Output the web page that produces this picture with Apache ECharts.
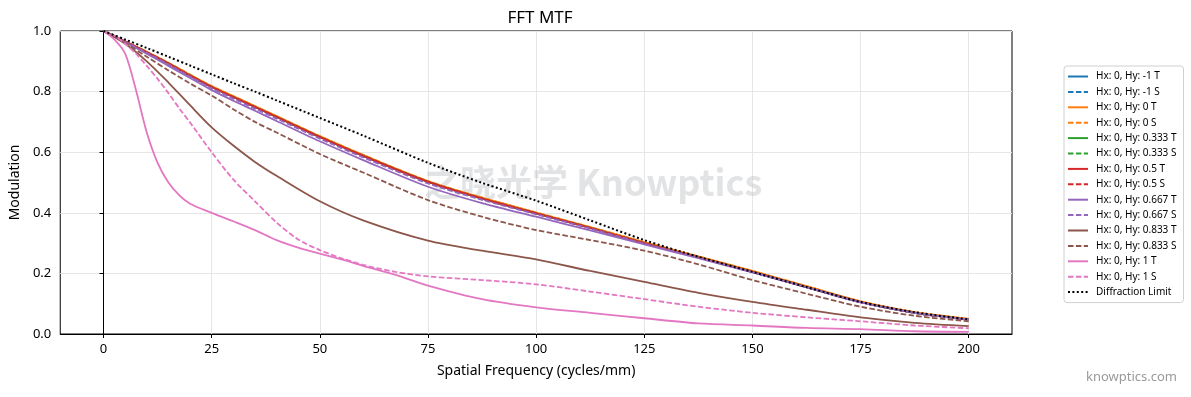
<!DOCTYPE html>
<html style="height: 100%">
<head>
  <meta charset="utf-8" />
  <title>FFT MTF</title>
  <script src="https://cdn.jsdelivr.net/npm/echarts@6/dist/echarts.min.js"></script>
</head>
<body style="height: 100%; margin: 0; overflow: hidden; background: #fff">
  <div id="container" style="width: 1191px; height: 397px"></div>
  <script>
    // spatial frequency sample points (cycles/mm)
    const freqMain = [0, 5, 10, 15, 20, 25, 30, 35, 40, 50, 60, 75, 87.5, 100, 112.5, 125, 137.5, 150, 162.5, 175, 187.5, 200];
    const freqEdge = [0, 2.5, 5, 7.5, 10, 12.5, 15, 17.5, 20, 25, 30, 35, 40, 45, 50, 55, 60, 67.5, 75, 87.5, 100, 112.5, 125, 137.5, 150, 162.5, 175, 187.5, 200];

    // fields -1 .. 0.5 all sit in one bundle
    const mtfAxis = [1.0, 0.966, 0.931, 0.895, 0.856, 0.818, 0.785, 0.752, 0.719, 0.653, 0.591, 0.505, 0.45, 0.401, 0.353, 0.303, 0.256, 0.208, 0.158, 0.108, 0.072, 0.05];
    const mtfMid = [1.0, 0.965, 0.93, 0.893, 0.853, 0.815, 0.782, 0.749, 0.716, 0.65, 0.588, 0.502, 0.447, 0.398, 0.35, 0.3, 0.253, 0.205, 0.155, 0.105, 0.07, 0.048];
    const mtf0667S = [1.0, 0.964, 0.928, 0.89, 0.85, 0.811, 0.777, 0.744, 0.711, 0.645, 0.583, 0.497, 0.443, 0.395, 0.348, 0.298, 0.252, 0.204, 0.155, 0.105, 0.07, 0.048];
    const mtf0667T = [1.0, 0.963, 0.925, 0.885, 0.845, 0.805, 0.77, 0.737, 0.703, 0.636, 0.574, 0.486, 0.432, 0.387, 0.342, 0.296, 0.25, 0.203, 0.154, 0.104, 0.07, 0.047];
    const mtf0833S = [1.0, 0.96, 0.915, 0.87, 0.827, 0.787, 0.742, 0.7, 0.665, 0.594, 0.533, 0.442, 0.387, 0.343, 0.31, 0.275, 0.23, 0.178, 0.133, 0.09, 0.06, 0.042];
    const mtf0833T = [1.0, 0.958, 0.9, 0.83, 0.755, 0.682, 0.622, 0.568, 0.522, 0.438, 0.375, 0.308, 0.275, 0.246, 0.208, 0.172, 0.136, 0.106, 0.08, 0.055, 0.037, 0.026];
    const mtfDiff = [1.0, 0.972, 0.944, 0.915, 0.886, 0.857, 0.828, 0.8, 0.771, 0.713, 0.655, 0.565, 0.499, 0.44, 0.375, 0.31, 0.255, 0.205, 0.155, 0.106, 0.072, 0.048];
    const mtf1S = [1.0, 0.985, 0.958, 0.925, 0.885, 0.842, 0.795, 0.745, 0.698, 0.6, 0.51, 0.438, 0.368, 0.312, 0.277, 0.25, 0.228, 0.205, 0.19, 0.178, 0.164, 0.14, 0.115, 0.09, 0.07, 0.055, 0.042, 0.028, 0.019];
    const mtf1T = [1.0, 0.972, 0.925, 0.805, 0.665, 0.565, 0.5, 0.458, 0.43, 0.4, 0.372, 0.343, 0.31, 0.285, 0.265, 0.246, 0.225, 0.195, 0.16, 0.115, 0.088, 0.07, 0.052, 0.035, 0.028, 0.02, 0.016, 0.009, 0.007];

    const xTicks = [0, 25, 50, 75, 100, 125, 150, 175, 200];

    const FONT = "'Noto Sans', 'DejaVu Sans', sans-serif";
    const pairs = (xs, ys) => xs.map((x, i) => [x, ys[i]]);

    const curves = [
      ["Hx: 0, Hy: -1 T", "#1f77b4", "solid", freqMain, mtfMid],
      ["Hx: 0, Hy: -1 S", "#1f77b4", "dashed", freqMain, mtfMid],
      ["Hx: 0, Hy: 0 T", "#ff7f0e", "solid", freqMain, mtfAxis],
      ["Hx: 0, Hy: 0 S", "#ff7f0e", "dashed", freqMain, mtfAxis],
      ["Hx: 0, Hy: 0.333 T", "#2ca02c", "solid", freqMain, mtfMid],
      ["Hx: 0, Hy: 0.333 S", "#2ca02c", "dashed", freqMain, mtfMid],
      ["Hx: 0, Hy: 0.5 T", "#d62728", "solid", freqMain, mtfMid],
      ["Hx: 0, Hy: 0.5 S", "#d62728", "dashed", freqMain, mtfMid],
      ["Hx: 0, Hy: 0.667 T", "#9467bd", "solid", freqMain, mtf0667T],
      ["Hx: 0, Hy: 0.667 S", "#9467bd", "dashed", freqMain, mtf0667S],
      ["Hx: 0, Hy: 0.833 T", "#8c564b", "solid", freqMain, mtf0833T],
      ["Hx: 0, Hy: 0.833 S", "#8c564b", "dashed", freqMain, mtf0833S],
      ["Hx: 0, Hy: 1 T", "#e377c2", "solid", freqEdge, mtf1T],
      ["Hx: 0, Hy: 1 S", "#e377c2", "dashed", freqEdge, mtf1S],
      ["Diffraction Limit", "#000000", "dotted", freqMain, mtfDiff],
    ];

    const series = curves.map(([name, color, style, xs, ys], i) => ({
      name: name,
      type: "line",
      data: pairs(xs, ys),
      smooth: 0.3,
      symbol: "none",
      z: 2 + i,
      color: color,
      lineStyle: {
        color: color,
        width: style === "dotted" ? 2 : 1.8,
        type: style === "dashed" ? [5.5, 2.4] : style === "dotted" ? [2, 2.4] : "solid",
        cap: "butt",
      },
    }));

    // vertical grid lines at the tick positions
    series[0].markLine = {
      silent: true,
      symbol: "none",
      label: { show: false },
      lineStyle: { color: "#e6e6e6", width: 1, type: "solid" },
      data: xTicks.map(v => ({ xAxis: v })),
      z: 0,
    };

    var dom = document.getElementById("container");
    var myChart = echarts.init(dom, null, { renderer: "canvas" });
    var option = {
      animation: false,
      textStyle: { fontFamily: FONT },
      title: {
        text: "FFT MTF",
        left: 535, top: 5, textAlign: "center",
        textStyle: { fontFamily: FONT, fontSize: 17, fontWeight: "normal", color: "#000" },
      },
      graphic: [
        {
          type: "text", left: 424, top: 164, z: 1, silent: true,
          style: { text: "之晓光学 Knowptics", font: "bold 36px 'Noto Sans CJK SC', 'Noto Sans', sans-serif", fill: "rgba(190,192,198,0.45)" },
        },
        {
          type: "text", right: 14, top: 371,
          style: { text: "knowptics.com", font: "13px " + FONT, fill: "#9a9a9a" },
        },
      ],
      legend: {
        orient: "vertical",
        left: 1064, top: 66,
        padding: [5, 7, 5, 3],
        itemWidth: 20, itemHeight: 11, itemGap: 4.4,
        itemStyle: { opacity: 0 },
        backgroundColor: "#fff",
        borderColor: "#d0d0d0", borderWidth: 1, borderRadius: 3,
        textStyle: { fontFamily: FONT, fontSize: 10, color: "#000", lineHeight: 11, padding: [0, 0, 0, 3] },
        data: curves.map(c => c[0]),
      },
      grid: {
        left: 59, top: 31, width: 953, height: 303,
        show: true, borderColor: "#000", borderWidth: 1, backgroundColor: "transparent",
      },
      xAxis: {
        type: "value", min: -10, max: 210,
        name: "Spatial Frequency (cycles/mm)", nameLocation: "middle", nameGap: 30,
        nameTextStyle: { fontFamily: FONT, fontSize: 14, color: "#000" },
        axisLine: { show: true, lineStyle: { color: "#000", width: 1 } },
        axisTick: { show: true, length: 4, lineStyle: { color: "#000" }, customValues: xTicks },
        axisLabel: { color: "#000", fontSize: 13, fontFamily: FONT, margin: 9, customValues: xTicks },
        splitLine: { show: false },
      },
      yAxis: {
        type: "value", min: 0, max: 1, interval: 0.2,
        name: "Modulation", nameLocation: "middle", nameGap: 38,
        nameTextStyle: { fontFamily: FONT, fontSize: 14, color: "#000" },
        axisLine: { show: true, lineStyle: { color: "#000", width: 1 } },
        axisTick: { show: true, length: 4, lineStyle: { color: "#000" } },
        axisLabel: { color: "#000", fontSize: 13, fontFamily: FONT, margin: 9, formatter: v => v.toFixed(1) },
        splitLine: { show: true, lineStyle: { color: "#e6e6e6", width: 1 } },
      },
      series: series,
    };
    myChart.setOption(option);
  </script>
</body>
</html>
